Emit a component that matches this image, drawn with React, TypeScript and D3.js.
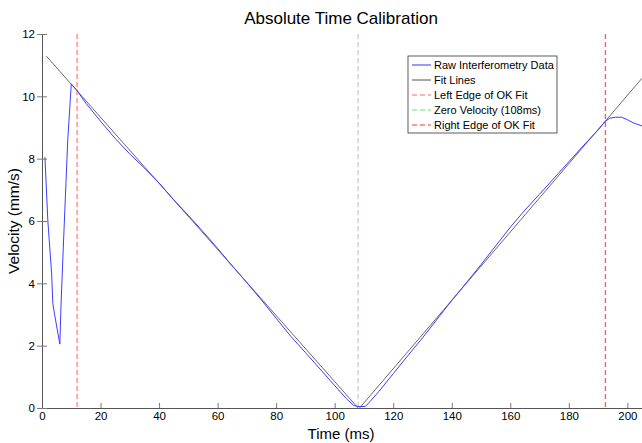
import React, { useRef, useEffect } from 'react';
import * as d3 from 'd3';

// raw interferometry trace (time ms, velocity mm/s)
const rawTime = [1, 2, 3.3, 3.7, 4.3, 6.1, 6.5, 7.1, 8, 8.8, 10, 12, 15, 20, 25, 30, 35, 40, 45, 50, 55, 60, 65, 70, 75, 80, 85, 90, 95, 100, 104, 106.5, 108, 110.5, 112, 115, 120, 125, 130, 135, 140, 145, 150, 155, 160, 165, 170, 175, 180, 185, 190, 192.5, 194, 196, 198, 200, 202, 205];
const rawVel = [8.05, 6.0, 4.3, 3.35, 3.0, 2.05, 3.3, 4.75, 6.8, 8.6, 10.4, 10.18, 9.78, 9.2, 8.65, 8.15, 7.7, 7.22, 6.68, 6.18, 5.66, 5.12, 4.56, 4.02, 3.46, 2.88, 2.3, 1.78, 1.25, 0.72, 0.3, 0.08, 0.05, 0.05, 0.2, 0.52, 1.1, 1.68, 2.25, 2.85, 3.45, 4.02, 4.6, 5.2, 5.8, 6.35, 6.86, 7.38, 7.9, 8.42, 8.92, 9.2, 9.3, 9.33, 9.33, 9.25, 9.15, 9.05];

// fit lines: two straight segments end points
const fitLeft = [[1.5, 11.29], [108, 0]];
const fitRight = [[108.5, 0], [205, 10.58]];

const leftEdge = 12;
const zeroVel = 108;
const rightEdge = 192.5;

const xTicks = [0, 20, 40, 60, 80, 100, 120, 140, 160, 180, 200];
const yTicks = [0, 2, 4, 6, 8, 10, 12];

const legendItems = [
  { label: 'Raw Interferometry Data', color: '#3333ff', dash: null, w: 1 },
  { label: 'Fit Lines', color: '#555', dash: null, w: 1 },
  { label: 'Left Edge of OK Fit', color: '#ff9999', dash: '5,3', w: 1.5 },
  { label: 'Zero Velocity (108ms)', color: '#66e066', dash: '5,3', w: 1 },
  { label: 'Right Edge of OK Fit', color: '#ff7777', dash: '5,3', w: 1.5 },
];

const App = () => {
  const ref = useRef(null);

  useEffect(() => {
    const svg = d3.select(ref.current);
    svg.selectAll('*').remove();

    const width = 642;
    const height = 443;
    const margin = { top: 34, right: 0, bottom: 35, left: 42 };
    const font = 'Liberation Sans, Arial, Helvetica, sans-serif';

    const x = d3.scaleLinear().domain([0, 205]).range([margin.left, width - margin.right]);
    const y = d3.scaleLinear().domain([0, 12]).range([height - margin.bottom, margin.top]);

    svg.append('rect').attr('width', width).attr('height', height).attr('fill', '#fff');

    // title
    svg.append('text')
      .attr('x', 341).attr('y', 24)
      .attr('text-anchor', 'middle')
      .style('font-family', font).style('font-size', '17px')
      .text('Absolute Time Calibration');

    // vertical markers
    const vline = (v, color, w) => svg.append('line')
      .attr('x1', x(v)).attr('x2', x(v))
      .attr('y1', y(12)).attr('y2', y(0))
      .attr('stroke', color).attr('stroke-width', w)
      .attr('stroke-dasharray', '5,3');
    vline(leftEdge, '#ffaaaa', 2);
    vline(zeroVel, '#a8c8a8', 1);
    vline(rightEdge, '#ff5555', 1.3);

    // fit lines
    const line = d3.line().x(d => x(d[0])).y(d => y(d[1]));
    [fitLeft, fitRight].forEach(seg => {
      svg.append('path')
        .attr('d', line(seg))
        .attr('fill', 'none')
        .attr('stroke', '#444')
        .attr('stroke-width', 0.8);
    });

    // raw data
    const raw = rawTime.map((t, i) => [t, rawVel[i]]);
    svg.append('path')
      .attr('d', line(raw))
      .attr('fill', 'none')
      .attr('stroke', '#3d3dff')
      .attr('stroke-width', 1);

    // axes
    const xAxis = svg.append('g')
      .attr('transform', `translate(0,${y(0)})`)
      .call(d3.axisBottom(x).tickValues(xTicks).tickSizeInner(-5).tickSizeOuter(0).tickPadding(4));
    const yAxis = svg.append('g')
      .attr('transform', `translate(${x(0)},0)`)
      .call(d3.axisLeft(y).tickValues(yTicks).tickSizeInner(-5).tickSizeOuter(0).tickPadding(8));
    [xAxis, yAxis].forEach(g => {
      g.select('.domain').attr('stroke', '#555');
      g.selectAll('.tick line').attr('stroke', '#777');
      g.selectAll('text').style('font-family', font).style('font-size', '11.5px').attr('fill', '#000');
    });
    xAxis.selectAll('.tick text').attr('y', 4);
    // outer ticks on the left axis like MATLAB
    yAxis.selectAll('.tick').append('line')
      .attr('x1', -5).attr('x2', 0).attr('stroke', '#777');
    yAxis.selectAll('.tick text').attr('x', -7);

    // axis labels
    svg.append('text')
      .attr('x', 341).attr('y', 439)
      .attr('text-anchor', 'middle')
      .style('font-family', font).style('font-size', '15px')
      .text('Time (ms)');
    svg.append('text')
      .attr('transform', `translate(19,${(y(0) + y(12)) / 2}) rotate(-90)`)
      .attr('text-anchor', 'middle')
      .style('font-family', font).style('font-size', '15.5px')
      .text('Velocity (mm/s)');

    // legend
    const lg = svg.append('g').attr('transform', 'translate(408,56)');
    lg.append('rect')
      .attr('width', 149).attr('height', 77)
      .attr('fill', '#fff').attr('stroke', '#333').attr('stroke-width', 0.8);
    legendItems.forEach((d, i) => {
      const yy = 9 + i * 15;
      lg.append('line')
        .attr('x1', 4).attr('x2', 23).attr('y1', yy).attr('y2', yy)
        .attr('stroke', d.color).attr('stroke-width', d.w)
        .attr('stroke-dasharray', d.dash);
      lg.append('text')
        .attr('x', 26).attr('y', yy + 4)
        .style('font-family', font).style('font-size', '11px')
        .text(d.label);
    });
  }, []);

  return <svg ref={ref} width="642" height="443" style={{ position: 'absolute', left: 0, top: 0 }}></svg>;
};

export default App;
